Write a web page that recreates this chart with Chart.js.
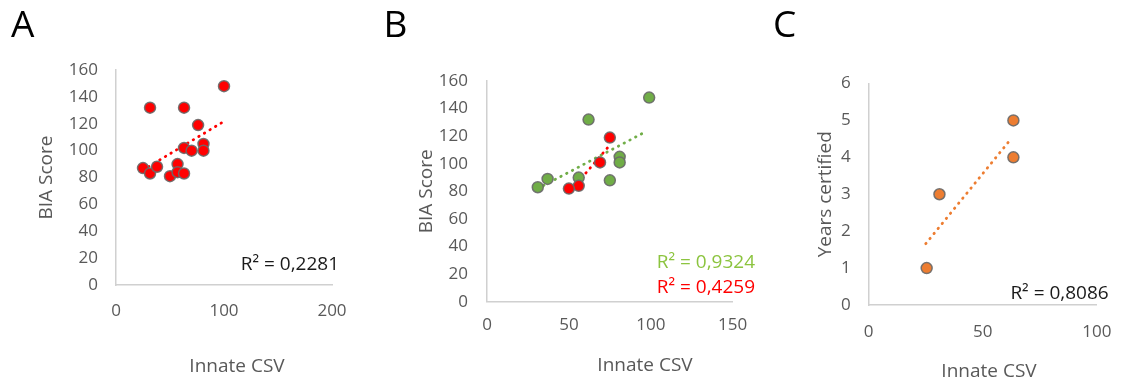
<!DOCTYPE html>
<html>
<head>
<meta charset="utf-8">
<script src="https://cdn.jsdelivr.net/npm/chart.js@4.4.1/dist/chart.umd.min.js"></script>
<style>
  body { margin: 0; background: #fff; width: 1128px; height: 381px; overflow: hidden; position: relative; }
  canvas { position: absolute; top: 0; }
</style>
</head>
<body>
<canvas id="chartA" width="376" height="381" style="left:0px"></canvas>
<canvas id="chartB" width="400" height="381" style="left:376px"></canvas>
<canvas id="chartC" width="376" height="381" style="left:752px"></canvas>
<script>
// Panel A - all participants, Innate CSV vs BIA Score
const csvA = [100, 31.5, 63, 76, 81, 81, 63, 70, 25, 31.5, 38, 50, 57, 57, 63];
const biaA = [148, 132, 132, 119, 105, 100, 102, 100, 87, 83, 88, 81, 90, 84, 83];
const trendCsvA = [25, 98];
const trendBiaA = [85.6, 120.8];

// Panel B - two groups
const csvGreen = [99, 62, 81, 81, 75, 37, 31, 56];
const biaGreen = [148, 132, 105, 101, 88, 89, 83, 90];
const csvRed = [75, 69, 56, 50];
const biaRed = [119, 101, 84, 82];
const trendCsvGreen = [31, 97.5];
const trendBiaGreen = [82, 123.6];
const trendCsvRed = [50, 74.6];
const trendBiaRed = [79, 113];

// Panel C - Innate CSV vs years certified
const csvC = [25.4, 31, 63.4, 63.4];
const yearsC = [1, 3, 4, 5];
const trendCsvC = [25, 62.5];
const trendYearsC = [1.66, 4.51];

const grey = '#595959';
const axisGrey = '#d0d0d0';
const ringGrey = 'rgba(105,105,105,0.9)';

Chart.defaults.font.family = "'Open Sans', sans-serif";

const toPoints = (xs, ys) => xs.map((x, i) => ({ x: x, y: ys[i] }));

// draws the free text: panel letters, x titles, R² labels
const extraText = {
  id: 'extraText',
  afterDraw(chart, args, opts) {
    const ctx = chart.ctx;
    ctx.save();
    (opts.items || []).forEach(t => {
      ctx.font = t.font || "19px 'Open Sans', sans-serif";
      ctx.fillStyle = t.color || '#000';
      ctx.textAlign = t.align || 'left';
      ctx.textBaseline = 'alphabetic';
      ctx.fillText(t.text, t.x, t.y);
    });
    ctx.restore();
  }
};

function scatterSet(xs, ys, color, order) {
  return {
    data: toPoints(xs, ys),
    backgroundColor: color,
    borderColor: ringGrey,
    borderWidth: 1.5,
    pointRadius: 5.5,
    order: order
  };
}

function trendSet(xs, ys, color) {
  return {
    data: toPoints(xs, ys),
    showLine: true,
    borderColor: color,
    borderWidth: 2.8,
    borderDash: [0.5, 6],
    borderCapStyle: 'round',
    pointRadius: 0,
    order: 5
  };
}

function panel(id, datasets, s) {
  return new Chart(document.getElementById(id), {
    type: 'scatter',
    data: { datasets: datasets },
    options: {
      responsive: false,
      animation: false,
      events: [],
      layout: { padding: { left: 0, top: s.top, right: s.right, bottom: 0 } },
      plugins: {
        legend: { display: false },
        tooltip: { enabled: false },
        extraText: { items: s.texts }
      },
      scales: {
        x: {
          type: 'linear',
          min: s.xMin, max: s.xMax,
          ticks: { stepSize: s.xStep, padding: s.xPad, color: grey, font: { size: 17 } },
          grid: { display: false, drawTicks: false },
          border: { color: axisGrey, width: 1.5 },
          afterFit: sc => { sc.height = s.xHeight; }
        },
        y: {
          min: s.yMin, max: s.yMax,
          ticks: { stepSize: s.yStep, padding: s.yPad, color: grey, font: { size: 17 } },
          grid: { display: false, drawTicks: false },
          border: { color: axisGrey, width: 1.5 },
          title: { display: true, text: s.yTitle, color: grey, font: { size: 19 }, padding: { top: s.yTitlePad, bottom: 0 } },
          afterFit: sc => { sc.width = s.yWidth; }
        }
      }
    },
    plugins: [extraText]
  });
}

const letterFont = "37px 'Open Sans', sans-serif";
const r2Font = "19px 'Open Sans', sans-serif";

panel('chartA', [
  scatterSet(csvA, biaA, '#ff0000', 0),
  trendSet(trendCsvA, trendBiaA, '#ff0000')
], {
  top: 70, right: 44, yWidth: 116, xHeight: 96,
  xMin: 0, xMax: 200, xStep: 100, xPad: 16,
  yMin: 0, yMax: 160, yStep: 20, yPad: 18,
  yTitle: 'BIA Score', yTitlePad: 35,
  texts: [
    { text: 'A', x: 11, y: 37, font: letterFont },
    { text: 'Innate CSV', x: 237, y: 371.5, align: 'center', color: grey },
    { text: 'R\u00b2 = 0,2281', x: 339, y: 270, align: 'right', font: r2Font, color: '#1a1a1a' }
  ]
});

panel('chartB', [
  scatterSet(csvRed, biaRed, '#ff0000', 0),
  scatterSet(csvGreen, biaGreen, '#70ad47', 1),
  trendSet(trendCsvRed, trendBiaRed, '#ff0000'),
  trendSet(trendCsvGreen, trendBiaGreen, '#70ad47')
], {
  top: 81, right: 43.3, yWidth: 111, xHeight: 79.3,
  xMin: 0, xMax: 150, xStep: 50, xPad: 13,
  yMin: 0, yMax: 160, yStep: 20, yPad: 19,
  yTitle: 'BIA Score', yTitlePad: 39.5,
  texts: [
    { text: 'B', x: 7.5, y: 37, font: letterFont },
    { text: 'Innate CSV', x: 269, y: 370.5, align: 'center', color: grey },
    { text: 'R\u00b2 = 0,9324', x: 379, y: 268, align: 'right', font: r2Font, color: '#8cc43f' },
    { text: 'R\u00b2 = 0,4259', x: 379, y: 293, align: 'right', font: r2Font, color: '#ff0000' }
  ]
});

panel('chartC', [
  scatterSet(csvC, yearsC, '#ed7d31', 0),
  trendSet(trendCsvC, trendYearsC, '#ed7d31')
], {
  top: 83.5, right: 18, yWidth: 116.7, xHeight: 76,
  xMin: 0, xMax: 100, xStep: 50, xPad: 16.5,
  yMin: 0, yMax: 6, yStep: 1, yPad: 18,
  yTitle: 'Years certified', yTitlePad: 62,
  texts: [
    { text: 'C', x: 21, y: 37, font: letterFont },
    { text: 'Innate CSV', x: 237, y: 376.5, align: 'center', color: grey },
    { text: 'R\u00b2 = 0,8086', x: 356.7, y: 299.3, align: 'right', font: r2Font, color: '#1a1a1a' }
  ]
});
</script>
</body>
</html>
